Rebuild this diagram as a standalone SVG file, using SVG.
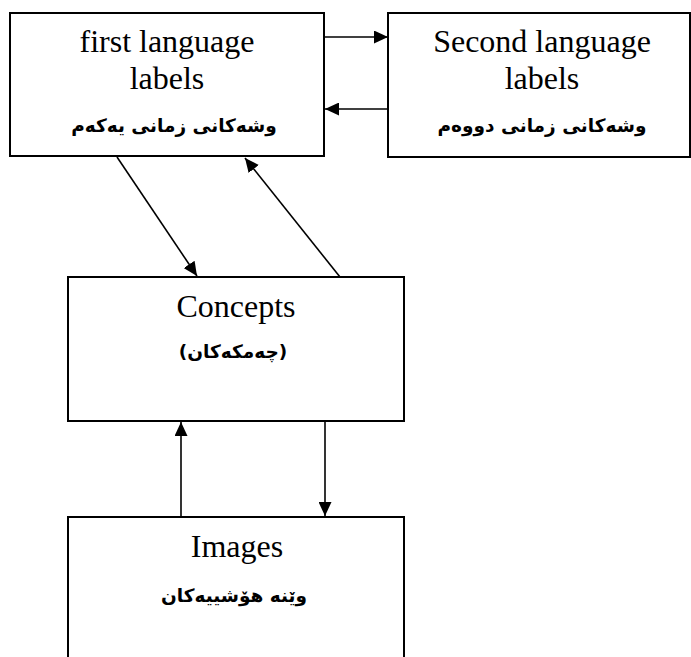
<svg xmlns="http://www.w3.org/2000/svg" width="691" height="657" viewBox="0 0 691 657">
<defs>
<style>
.box{fill:#fff;stroke:#000;stroke-width:2}
.en{font-family:"Liberation Serif","Times New Roman",serif;font-size:32px;fill:#000;text-anchor:middle}
.ku{font-family:"DejaVu Sans",sans-serif;font-weight:bold;font-size:18.5px;fill:#000;text-anchor:middle}
.c{stroke:#000;stroke-width:1.6;fill:none;marker-end:url(#ah)}
</style>
<marker id="ah" markerUnits="userSpaceOnUse" markerWidth="15" markerHeight="13" refX="14" refY="6.5" orient="auto">
<path d="M0,0 L14,6.5 L0,13 z" fill="#000"/>
</marker>
</defs>
<rect width="691" height="657" fill="#fff"/>
<g id="first">
<rect class="box" x="10" y="13" width="314" height="143"/>
<text class="en" x="167" y="52">first language</text>
<text class="en" x="167" y="89">labels</text>
<text class="ku" x="174" y="132" direction="rtl">وشەکانی زمانی یەکەم</text>
</g>
<g id="second">
<rect class="box" x="388" y="13" width="302" height="144"/>
<text class="en" x="542" y="52">Second language</text>
<text class="en" x="542" y="89">labels</text>
<text class="ku" x="542" y="132" direction="rtl">وشەکانی زمانی دووەم</text>
</g>
<g id="concepts">
<rect class="box" x="68" y="277" width="336" height="144"/>
<text class="en" x="236" y="317">Concepts</text>
<text class="ku" x="233" y="358" direction="rtl">(چەمکەکان)</text>
</g>
<g id="images">
<rect class="box" x="68" y="517" width="336" height="200"/>
<text class="en" x="237" y="557">Images</text>
<text class="ku" x="234" y="602" direction="rtl">وێنە هۆشییەکان</text>
</g>
<g id="connectors">
<line class="c" x1="324" y1="37" x2="388" y2="37"/>
<line class="c" x1="388" y1="109" x2="325" y2="109"/>
<line class="c" x1="117" y1="157" x2="197" y2="276"/>
<line class="c" x1="340" y1="277" x2="245" y2="158"/>
<line class="c" x1="181" y1="517" x2="181" y2="422"/>
<line class="c" x1="325" y1="422" x2="325" y2="516"/>
</g>
</svg>
